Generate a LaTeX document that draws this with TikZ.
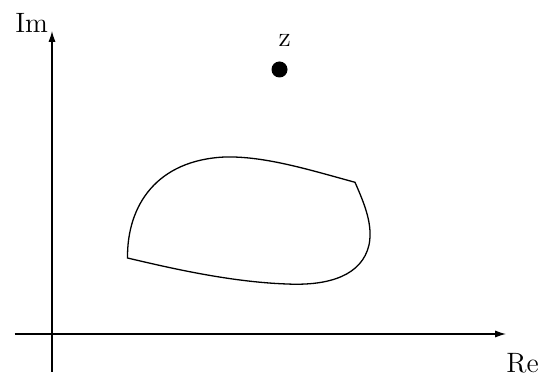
\documentclass[tikz,border=0pt]{standalone}
\usetikzlibrary{arrows.meta}
\begin{document}
\begin{tikzpicture}[x=0.5pt,y=-0.5pt,
  axis/.style={line width=0.6pt,-{Latex[length=5.5pt,width=3.6pt]}},
  lbl/.style={anchor=base,inner sep=0pt,font=\fontsize{14}{17}\selectfont},
  curve/.style={line width=0.65pt,line join=miter}]
\useasboundingbox (0,0) rectangle (546,379);
% axes
\coordinate (xs) at (14.5,334);
\coordinate (xe) at (506,334);
\coordinate (ys) at (52,371.5);
\coordinate (ye) at (52,31);
\draw[axis] (xs) -- (xe);
\draw[axis] (ys) -- (ye);
\node[lbl] (im) at (31.7,32.7) {Im};
\node[lbl] (re) at (522.5,372) {Re};
% point z
\fill (279.5,69.5) circle[radius=8];
\node[lbl] (z) at (284.7,46.7) {z};
% closed contour
\coordinate (a) at (127.5,258);
\coordinate (b) at (355,182.3);
\draw[curve] (a) .. controls (127,205) and (157,160) .. (225,157)
  .. controls (265,156) and (310,170) .. (b)
  .. controls (365,205) and (373,225) .. (369,245)
  .. controls (362,275) and (330,286) .. (287,284)
  .. controls (230,282) and (170,268) .. cycle;
\end{tikzpicture}
\end{document}
